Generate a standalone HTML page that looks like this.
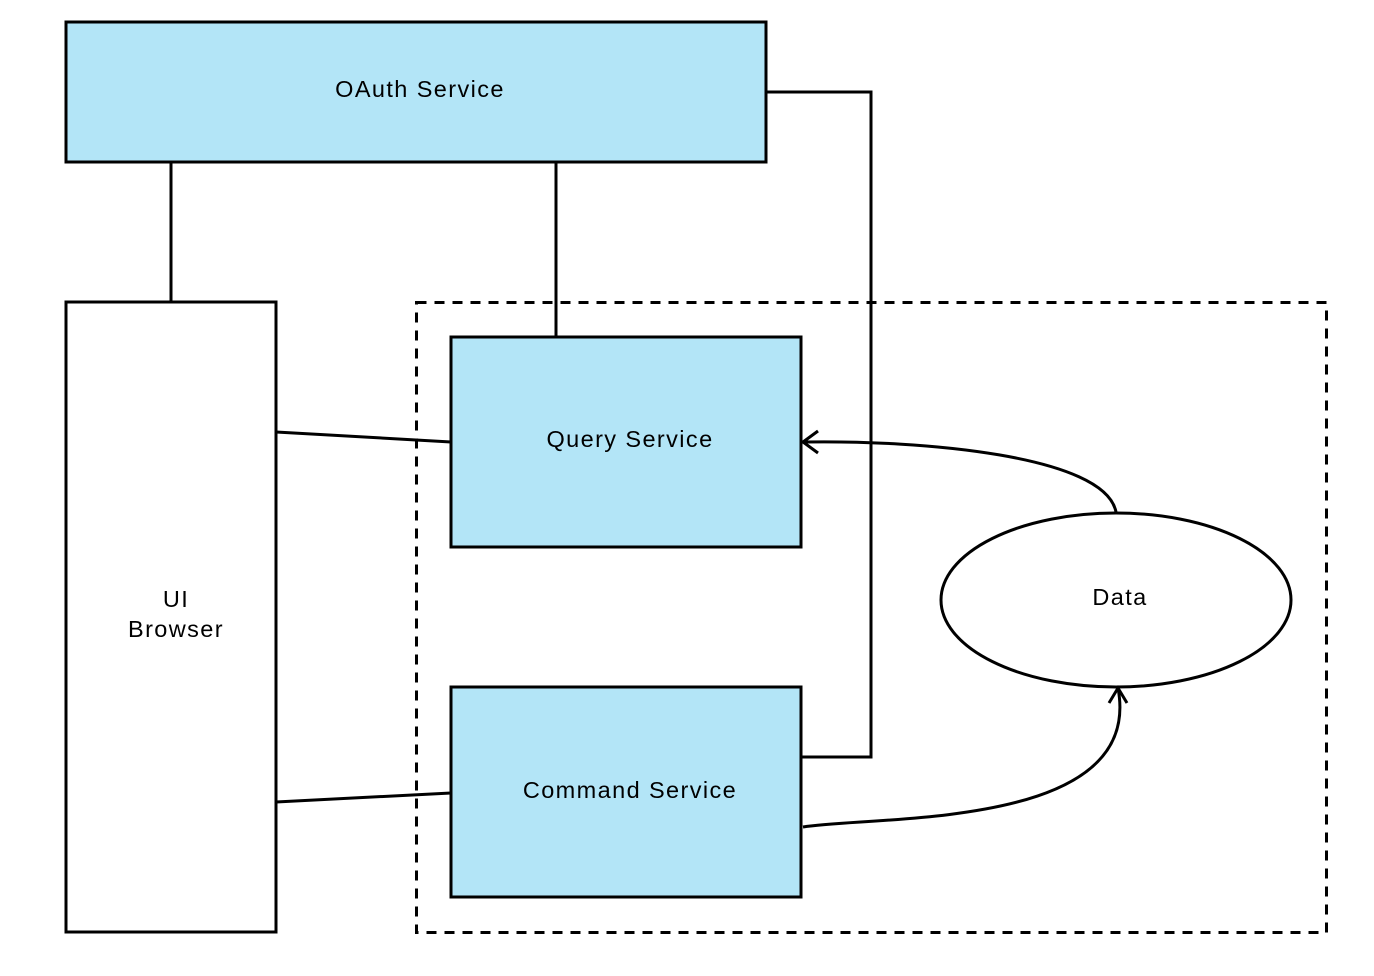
<!DOCTYPE html>
<html><head><meta charset="utf-8"><style>
html,body{margin:0;padding:0;background:#fff;}
svg{display:block;}
text{font-family:"Liberation Sans",sans-serif;font-size:23.5px;fill:#000;letter-spacing:1.4px;}
</style></head><body>
<svg width="1374" height="976" viewBox="0 0 1374 976" xmlns="http://www.w3.org/2000/svg">
<g stroke="#000" stroke-width="3" fill="none">
<rect x="416.5" y="302.5" width="910" height="630" stroke-dasharray="10,8"/>
<line x1="171" y1="162" x2="171" y2="302"/>
<line x1="556" y1="162" x2="556" y2="337"/>
<polyline points="766,92 871,92 871,757 801,757"/>
<line x1="276" y1="432" x2="451" y2="442"/>
<line x1="276" y1="802" x2="451" y2="793"/>
</g>
<rect x="66" y="22" width="700" height="140" fill="#b3e5f7" stroke="#000" stroke-width="3"/>
<rect x="66" y="302" width="210" height="630" fill="#fff" stroke="#000" stroke-width="3"/>
<rect x="451" y="337" width="350" height="210" fill="#b3e5f7" stroke="#000" stroke-width="3"/>
<rect x="451" y="687" width="350" height="210" fill="#b3e5f7" stroke="#000" stroke-width="3"/>
<ellipse cx="1116" cy="600" rx="175" ry="87" fill="#fff" stroke="#000" stroke-width="3"/>
<g stroke="#000" stroke-width="3" fill="none">
<path d="M1116,512 C1105,455 920,440 803,442"/>
<polyline points="818,431 803,442 818,453"/>
<path d="M803,827 C880,815 1145,830 1118,688"/>
<polyline points="1109,703 1118,688 1127,703"/>
</g>
<text x="420" y="97" text-anchor="middle">OAuth Service</text>
<text x="630" y="447" text-anchor="middle">Query Service</text>
<text x="630" y="798" text-anchor="middle">Command Service</text>
<text x="1120" y="605" text-anchor="middle">Data</text>
<text x="176" y="607" text-anchor="middle">UI</text>
<text x="176" y="637" text-anchor="middle">Browser</text>
</svg>
</body></html>
